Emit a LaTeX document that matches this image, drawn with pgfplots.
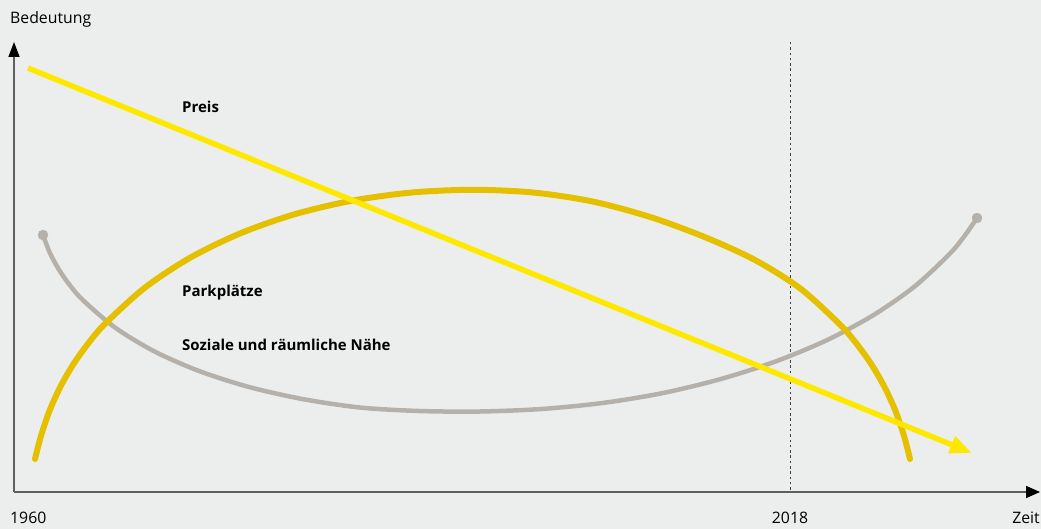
\documentclass[border=0pt]{standalone}
\usepackage{pgfplots}
\pgfplotsset{compat=1.18}
\usetikzlibrary{arrows.meta}
\usepackage{fontspec}
\setmainfont{Open Sans}
\definecolor{bg}{RGB}{236,238,237}
\definecolor{preis}{RGB}{255,232,0}
\definecolor{park}{RGB}{229,192,0}
\definecolor{sozial}{RGB}{181,177,170}
\definecolor{axcol}{RGB}{95,95,95}
\begin{document}
\fontsize{15pt}{18pt}\selectfont
\begin{tikzpicture}
\begin{axis}[scale only axis, width=1041pt, height=529pt,
  xmin=0, xmax=1041, ymin=0, ymax=529, y dir=reverse,
  hide axis, clip=false]
\fill[bg] (rel axis cs:0,0) rectangle (rel axis cs:1,1);
% axes
\draw[axcol, line width=1.6pt, -{Triangle[length=15pt,width=11pt,black]}] (axis cs:14,492) -- (axis cs:14,42);
\draw[axcol, line width=1.6pt, -{Triangle[length=14pt,width=12pt,black]}] (axis cs:14,492) -- (axis cs:1040,492);
% 2018 marker
\addplot[color=black!75, line width=1pt, dash pattern=on 2.5pt off 2.8pt] coordinates {(790,42) (790,492)};
% Soziale und raeumliche Naehe
\addplot[color=sozial, line width=4.5pt, smooth, line cap=round] coordinates {
(43,235) (49.9,252.9) (59.1,269.9) (70.3,285.8) (83.6,300.8) (115.8,328.1) (154.6,351.5) (199.3,371.1) (249,387) (302.8,399.1) (359.8,407.5) (419.2,411) (480,411.5) (541.4,409) (602.5,403) (662.6,393.1) (720.5,379.1) (775.7,361.4) (827,340.1) (873.6,315) (914.8,286.3) (949.5,254) (964.2,236.4) (977,218)};
\addplot[only marks, mark=*, mark size=5pt, color=sozial] coordinates {(43,235) (977,218)};
% Parkplaetze
\addplot[color=park, line width=6pt, smooth, line cap=round] coordinates {
(35,459) (41.1,435.5) (49.7,410.3) (60.5,386.5) (73.5,364) (88.6,342.9) (105.6,323.2) (144.7,287.8) (190,257.8) (240.4,233.3) (294.8,214.2) (352.4,200.6) (411.9,192.5) (472.5,189.8) (533.1,192.5) (592.6,201.5) (650.2,217) (704.6,237) (755,260) (800.3,288.5) (839.4,324) (856.4,343.5) (871.5,364.5) (884.5,387) (895.3,410.5) (903.9,435.5) (910,459)};
% Preis
\addplot[color=preis, line width=5.5pt, -{Triangle[length=22pt,width=17pt]}] coordinates {(28,68) (972,453)};
% labels
\node[anchor=base west, inner sep=0pt, font=\fontsize{15.8pt}{18pt}\selectfont] at (axis cs:10,24) {Bedeutung};
\node[anchor=base east, inner sep=0pt, font=\fontsize{15.8pt}{18pt}\selectfont] at (axis cs:1040,523) {Zeit};
\node[anchor=base west, inner sep=0pt, font=\fontsize{15.8pt}{18pt}\selectfont] at (axis cs:10,523) {1960};
\node[anchor=base, inner sep=0pt, font=\fontsize{15.8pt}{18pt}\selectfont] at (axis cs:790,523) {2018};
\node[anchor=base west, inner sep=0pt, font=\bfseries] at (axis cs:182,113) {Preis};
\node[anchor=base west, inner sep=0pt, font=\bfseries] at (axis cs:182,297) {Parkplätze};
\node[anchor=base west, inner sep=0pt, font=\bfseries] at (axis cs:182,350) {Soziale und räumliche Nähe};
\end{axis}
\pgfresetboundingbox
\path (current axis.south west) rectangle (current axis.north east);
\end{tikzpicture}
\end{document}
